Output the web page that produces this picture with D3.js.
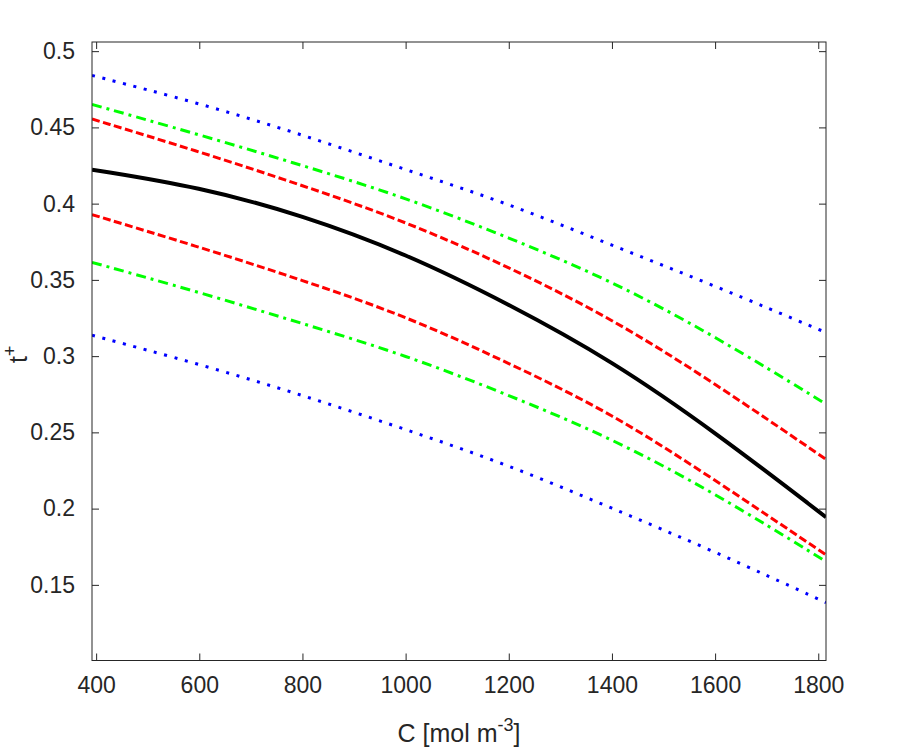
<!DOCTYPE html>
<html>
<head>
<meta charset="utf-8">
<script src="https://cdn.jsdelivr.net/npm/d3@7"></script>
<style>
  body { margin: 0; background: #fff; }
  svg { font-family: "Liberation Sans", Arial, sans-serif; }
</style>
</head>
<body>
<div class="chart"></div>
<script>
const margin = ({top: 42, right: 74, bottom: 92.5, left: 92})
const width = 900 - margin.left - margin.right
const height = 753 - margin.top - margin.bottom

// concentration (x) and transference number curves
const conc = [392, 600, 800, 1000, 1200, 1400, 1600, 1815]
const tMean = [0.4223, 0.4109, 0.3924, 0.3673, 0.3342, 0.2970, 0.2502, 0.1944]
const redUpper = [0.4555, 0.4341, 0.4120, 0.3884, 0.3585, 0.3247, 0.2821, 0.2323]
const redLower = [0.3928, 0.3716, 0.3498, 0.3264, 0.2955, 0.2625, 0.2188, 0.1697]
const greenUpper = [0.4651, 0.4452, 0.4251, 0.4040, 0.3778, 0.3493, 0.3131, 0.2686]
const greenLower = [0.3615, 0.3419, 0.3214, 0.3007, 0.2745, 0.2461, 0.2101, 0.1653]
const blueUpper = [0.4841, 0.4659, 0.4452, 0.4223, 0.4000, 0.3727, 0.3461, 0.3155]
const blueLower = [0.3137, 0.2948, 0.2745, 0.2520, 0.2286, 0.2003, 0.1718, 0.1384]

const xTicks = [400, 600, 800, 1000, 1200, 1400, 1600, 1800]
const yTicks = [0.15, 0.2, 0.25, 0.3, 0.35, 0.4, 0.45, 0.5]

const series = [
    {vals: blueUpper, color: "#0000ff", w: 3, dash: "3,7.7"},
    {vals: blueLower, color: "#0000ff", w: 3, dash: "3,7.7"},
    {vals: greenUpper, color: "#00ff00", w: 3, dash: "10,5,3,5"},
    {vals: greenLower, color: "#00ff00", w: 3, dash: "10,5,3,5"},
    {vals: redUpper, color: "#ff0000", w: 3, dash: "8,3.5"},
    {vals: redLower, color: "#ff0000", w: 3, dash: "8,3.5"},
    {vals: tMean, color: "#000000", w: 4, dash: null}
]

const axisColor = "#262626"

const svg = d3.select('.chart').append('svg')
    .attr("width", width + margin.left + margin.right)
    .attr("height", height + margin.top + margin.bottom)
    .append("g")
    .attr("transform", "translate(" + margin.left + "," + margin.top + ")")

// SCALES
const xScale = d3.scaleLinear()
    .domain([392, 1815])
    .range([0, width])

const yScale = d3.scaleLinear()
    .domain([0.1004, 0.506])
    .range([height, 0])

svg.append("clipPath").attr("id", "clip")
    .append("rect").attr("width", width).attr("height", height)

// LINES
const line = d3.line()
    .x(d => xScale(d[0]))
    .y(d => yScale(d[1]))
    .curve(d3.curveBasis)

svg.append("g")
    .attr("clip-path", "url(#clip)")
    .selectAll("path")
    .data(series)
    .join("path")
    .attr("d", s => line(conc.map((c, i) => [c, s.vals[i]])))
    .attr("fill", "none")
    .attr("stroke", s => s.color)
    .attr("stroke-width", s => s.w)
    .attr("stroke-dasharray", s => s.dash)

// AXES (ticks point inward, box on)
const styleAxis = g => {
    g.select(".domain").remove()
    g.selectAll(".tick line").attr("stroke", axisColor)
    g.selectAll(".tick text").attr("fill", axisColor).attr("font-size", 23)
}

svg.append("g")
    .attr("transform", `translate(0, ${height})`)
    .call(d3.axisBottom(xScale).tickValues(xTicks).tickSizeInner(-7).tickPadding(16)
        .tickFormat(d3.format("d")))
    .call(styleAxis)

svg.append("g")
    .call(d3.axisTop(xScale).tickValues(xTicks).tickSizeInner(-7).tickFormat(""))
    .call(styleAxis)

svg.append("g")
    .call(d3.axisLeft(yScale).tickValues(yTicks).tickSizeInner(-7).tickPadding(17)
        .tickFormat(d3.format("~g")))
    .call(styleAxis)

svg.append("g")
    .attr("transform", `translate(${width}, 0)`)
    .call(d3.axisRight(yScale).tickValues(yTicks).tickSizeInner(-7).tickFormat(""))
    .call(styleAxis)

svg.append("rect")
    .attr("width", width)
    .attr("height", height)
    .attr("fill", "none")
    .attr("stroke", axisColor)
    .attr("stroke-width", 1)

// LABELS
const xLabel = svg.append("text")
    .attr("x", width / 2)
    .attr("y", height + 81)
    .attr("text-anchor", "middle")
    .attr("font-size", 25)
    .attr("fill", axisColor)
xLabel.append("tspan").text("C [mol m")
xLabel.append("tspan").attr("dy", -11).attr("font-size", 18).text("-3")
xLabel.append("tspan").attr("dy", 11).text("]")

const yLabel = svg.append("text")
    .attr("transform", `translate(${27 - margin.left}, ${height / 2 + 3}) rotate(-90)`)
    .attr("text-anchor", "middle")
    .attr("font-size", 25)
    .attr("fill", axisColor)
yLabel.append("tspan").text("t")
yLabel.append("tspan").attr("dy", -11).attr("font-size", 18).text("+")
</script>
</body>
</html>
